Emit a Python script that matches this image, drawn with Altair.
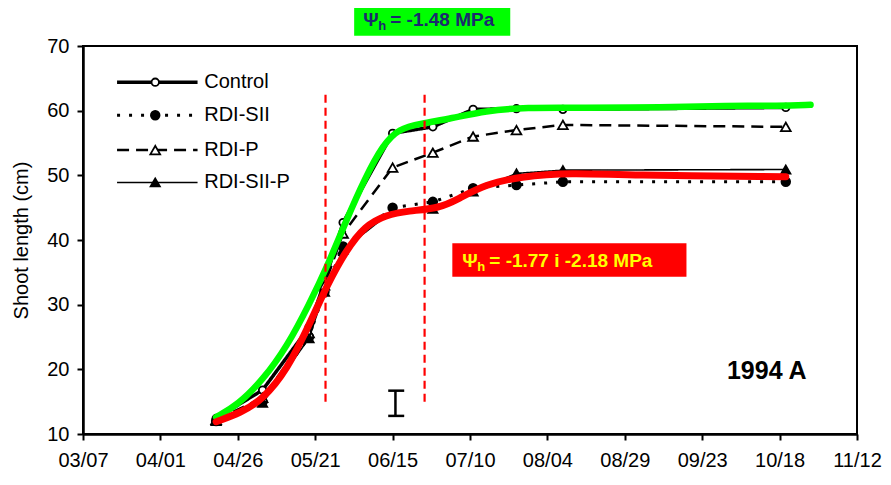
import altair as alt
import pandas as pd

# ---------------- data ----------------
dates = ["1994/04/19", "1994/05/04", "1994/05/19", "1994/05/24", "1994/05/30",
         "1994/06/15", "1994/06/28", "1994/07/11", "1994/07/25", "1994/08/09", "1994/10/20"]
series_names = ["Control", "RDI-SII", "RDI-P", "RDI-SII-P"]
control = [12.4, 16.8, 26.5, 33.5, 42.7, 56.5, 57.5, 60.2, 60.3, 60.2, 60.5]
rdi_sii = [12.0, 15.0, 25.0, 32.0, 39.0, 45.0, 45.9, 48.0, 48.5, 49.0, 49.0]
rdi_p = [12.2, 15.6, 25.6, 33.0, 41.0, 51.2, 53.5, 56.0, 57.0, 57.8, 57.5]
rdi_sii_p = [12.0, 14.8, 24.8, 32.0, 38.5, 44.5, 44.8, 47.5, 50.3, 50.8, 50.9]

# hand-drawn highlight curves
green_dates = ["1994/04/19", "1994/04/26", "1994/05/04", "1994/05/12", "1994/05/19",
               "1994/05/25", "1994/05/31", "1994/06/06", "1994/06/12", "1994/06/17",
               "1994/06/24", "1994/07/04", "1994/07/15", "1994/07/28", "1994/08/15",
               "1994/09/10", "1994/10/01", "1994/10/18", "1994/10/28"]
green_vals = [12.6, 14.5, 18.3, 23.6, 30.0, 36.0, 43.0, 49.5, 54.8, 57.2,
              58.0, 58.8, 60.0, 60.5, 60.4, 60.5, 60.8, 60.7, 60.9]
red_dates = ["1994/04/19", "1994/04/27", "1994/05/04", "1994/05/12", "1994/05/19",
             "1994/05/25", "1994/05/31", "1994/06/06", "1994/06/13",
             "1994/06/20", "1994/06/30", "1994/07/06", "1994/07/15", "1994/07/26",
             "1994/08/12", "1994/08/29", "1994/10/20"]
red_vals = [11.9, 13.3, 15.3, 20.0, 26.8, 33.2, 38.4, 42.2, 43.9,
            44.5, 44.9, 46.3, 48.6, 49.8, 50.4, 50.0, 49.8]

x_ticks = ["1994/03/07", "1994/04/01", "1994/04/26", "1994/05/21", "1994/06/15",
           "1994/07/10", "1994/08/04", "1994/08/29", "1994/09/23", "1994/10/18", "1994/11/12"]
y_ticks = [10, 20, 30, 40, 50, 60, 70]

# annotation anchors (data coordinates)
vlines_dates = ["1994/05/24 08:00", "1994/06/25 08:00"]
vlines_y = [15.0, 62.7]
errbar_date = "1994/06/15 22:00"
errbar_caps = ["1994/06/13 14:00", "1994/06/18 18:00"]
errbar_y = [12.8, 16.7]

green_box = {"x": "1994/06/02 14:00", "x2": "1994/07/23", "y": 71.6, "y2": 76.8,
             "tx": "1994/06/05 12:00", "ty": 74.0}
red_box = {"x": "1994/07/04 07:00", "x2": "1994/09/17 22:00", "y": 34.3, "y2": 39.5,
           "tx": "1994/07/07 12:00", "ty": 36.8}
green_text = "= -1.48 MPa"
red_text = "= -1.77  i -2.18 MPa"
panel_label = {"x": "1994/10/01", "y": 19.8, "text": "1994 A"}

legend_x = {"x1": "1994/03/18", "x2": "1994/04/13", "xm": "1994/03/30 08:00", "xt": "1994/04/14 12:00"}
legend_y = [64.4, 59.3, 53.9, 48.9]

styles = {
    "Control":   dict(width=3.5, dash=[1, 0], shape="circle", filled=False, size=55),
    "RDI-SII":   dict(width=3.0, dash=[3, 9], shape="circle", filled=True, size=75),
    "RDI-P":     dict(width=2.5, dash=[12, 7], shape="triangle-up", filled=False, size=95),
    "RDI-SII-P": dict(width=1.6, dash=[1, 0], shape="triangle-up", filled=True, size=85),
}
values = {"Control": control, "RDI-SII": rdi_sii, "RDI-P": rdi_p, "RDI-SII-P": rdi_sii_p}

FONT = "Liberation Sans"


def dt(s):
    d, *t = s.split(" ")
    y, m, dd = [int(v) for v in d.split("/")]
    kw = dict(year=y, month=m, date=dd)
    if t:
        hh, mm = [int(v) for v in t[0].split(":")]
        kw.update(hours=hh, minutes=mm)
    return alt.DateTime(**kw)


xscale = alt.Scale(domain=[dt(x_ticks[0]), dt(x_ticks[-1])])
yscale = alt.Scale(domain=[10, 70], nice=False, zero=False)
xaxis = alt.Axis(values=[dt(t) for t in x_ticks], format="%m/%d", title=None,
                 labelPadding=10, labelFontSize=20, labelFlush=False)
yaxis = alt.Axis(values=y_ticks, title="Shoot length (cm)", labelPadding=8,
                 labelFontSize=20, titleFontSize=20, titleFontWeight="normal",
                 titleX=-62, titleY=194, titleAngle=270, titleBaseline="middle",
                 titleAlign="center")

X = lambda f="d": alt.X(f"{f}:T", scale=xscale, axis=xaxis)
Y = lambda f="v": alt.Y(f"{f}:Q", scale=yscale, axis=yaxis)

layers = []

# series lines and markers
for name in series_names:
    st = styles[name]
    df = pd.DataFrame({"d": dates, "v": values[name]})
    base = alt.Chart(df)
    layers.append(base.mark_line(color="black", strokeWidth=st["width"],
                                 strokeDash=st["dash"], strokeCap="butt").encode(x=X(), y=Y()))
    layers.append(base.mark_point(shape=st["shape"], size=st["size"], filled=True,
                                  fill="black" if st["filled"] else "white",
                                  stroke="black", strokeWidth=1.8, opacity=1)
                  .encode(x=X(), y=Y()))

# manual legend
for name, ly in zip(series_names, legend_y):
    st = styles[name]
    ldf = pd.DataFrame({"x1": [legend_x["x1"]], "x2": [legend_x["x2"]],
                        "xm": [legend_x["xm"]], "xt": [legend_x["xt"]],
                        "y": [ly], "label": [name]})
    lb = alt.Chart(ldf)
    layers.append(lb.mark_rule(color="black", strokeWidth=st["width"],
                               strokeDash=st["dash"], strokeCap="butt")
                  .encode(x=X("x1"), x2="x2:T", y=Y("y")))
    layers.append(lb.mark_point(shape=st["shape"], size=st["size"], filled=True,
                                fill="black" if st["filled"] else "white",
                                stroke="black", strokeWidth=1.8, opacity=1)
                  .encode(x=X("xm"), y=Y("y")))
    layers.append(lb.mark_text(align="left", baseline="middle", font=FONT, fontSize=20,
                               color="black", dx=2)
                  .encode(x=X("xt"), y=Y("y"), text="label:N"))

# highlight curves
gdf = pd.DataFrame({"d": green_dates, "v": green_vals})
rdf = pd.DataFrame({"d": red_dates, "v": red_vals})
layers.append(alt.Chart(gdf).mark_line(color="#00ff00", strokeWidth=6.5, strokeCap="round",
                                       interpolate="basis").encode(x=X(), y=Y()))
layers.append(alt.Chart(rdf).mark_line(color="#ff0000", strokeWidth=7, strokeCap="round",
                                       interpolate="basis").encode(x=X(), y=Y()))

# vertical dashed red lines
vdf = pd.DataFrame({"d": vlines_dates, "y1": [vlines_y[0]] * 2, "y2": [vlines_y[1]] * 2})
layers.append(alt.Chart(vdf).mark_rule(color="#ff0000", strokeWidth=2.2, strokeDash=[8, 5])
              .encode(x=X(), y=Y("y1"), y2="y2:Q"))

# error bar
edf = pd.DataFrame({"d": [errbar_date], "y1": [errbar_y[0]], "y2": [errbar_y[1]]})
layers.append(alt.Chart(edf).mark_rule(color="black", strokeWidth=2.5)
              .encode(x=X(), y=Y("y1"), y2="y2:Q"))
cdf = pd.DataFrame({"x1": [errbar_caps[0]] * 2, "x2": [errbar_caps[1]] * 2, "y": errbar_y})
layers.append(alt.Chart(cdf).mark_rule(color="black", strokeWidth=2.5)
              .encode(x=X("x1"), x2="x2:T", y=Y("y")))

# annotation boxes


def box(b, fill, color, rest):
    bdf = pd.DataFrame({"x": [b["x"]], "x2": [b["x2"]], "y": [b["y"]], "y2": [b["y2"]],
                        "tx": [b["tx"]], "ty": [b["ty"]]})
    c = alt.Chart(bdf)
    out = [c.mark_rect(color=fill).encode(x=X("x"), x2="x2:T", y=Y("y"), y2="y2:Q")]
    out.append(c.mark_text(align="left", baseline="middle", font=FONT, fontSize=19,
                           fontWeight="bold", color=color, text="\u03a8")
               .encode(x=X("tx"), y=Y("ty")))
    out.append(c.mark_text(align="left", baseline="middle", font=FONT, fontSize=13,
                           fontWeight="bold", color=color, text="h", dx=15, dy=6)
               .encode(x=X("tx"), y=Y("ty")))
    out.append(c.mark_text(align="left", baseline="middle", font=FONT, fontSize=19,
                           fontWeight="bold", color=color, text=rest, dx=27)
               .encode(x=X("tx"), y=Y("ty")))
    return out


layers += box(green_box, "#00ff00", "#1b2a6e", green_text)
layers += box(red_box, "#ff0000", "#ffff00", red_text)

pdf = pd.DataFrame({"x": [panel_label["x"]], "y": [panel_label["y"]], "t": [panel_label["text"]]})
layers.append(alt.Chart(pdf).mark_text(align="left", baseline="middle", font=FONT, fontSize=25,
                                       fontWeight="bold", color="black")
              .encode(x=X("x"), y=Y("y"), text="t:N"))

chart = (
    alt.layer(*layers)
    .properties(width=774, height=388,
                padding={"left": 75, "top": 38, "right": 25, "bottom": 40},
                autosize=alt.AutoSizeParams(type="none"))
    .configure_view(stroke="black", strokeWidth=2)
    .configure_axis(grid=False, domainColor="black", domainWidth=2.5, tickColor="black",
                    tickWidth=2, tickSize=6, labelColor="black", titleColor="black",
                    labelFont=FONT, titleFont=FONT)
    .configure_text(font=FONT)
)

chart.save("out.html", embed_options={"renderer": "svg", "actions": False})
